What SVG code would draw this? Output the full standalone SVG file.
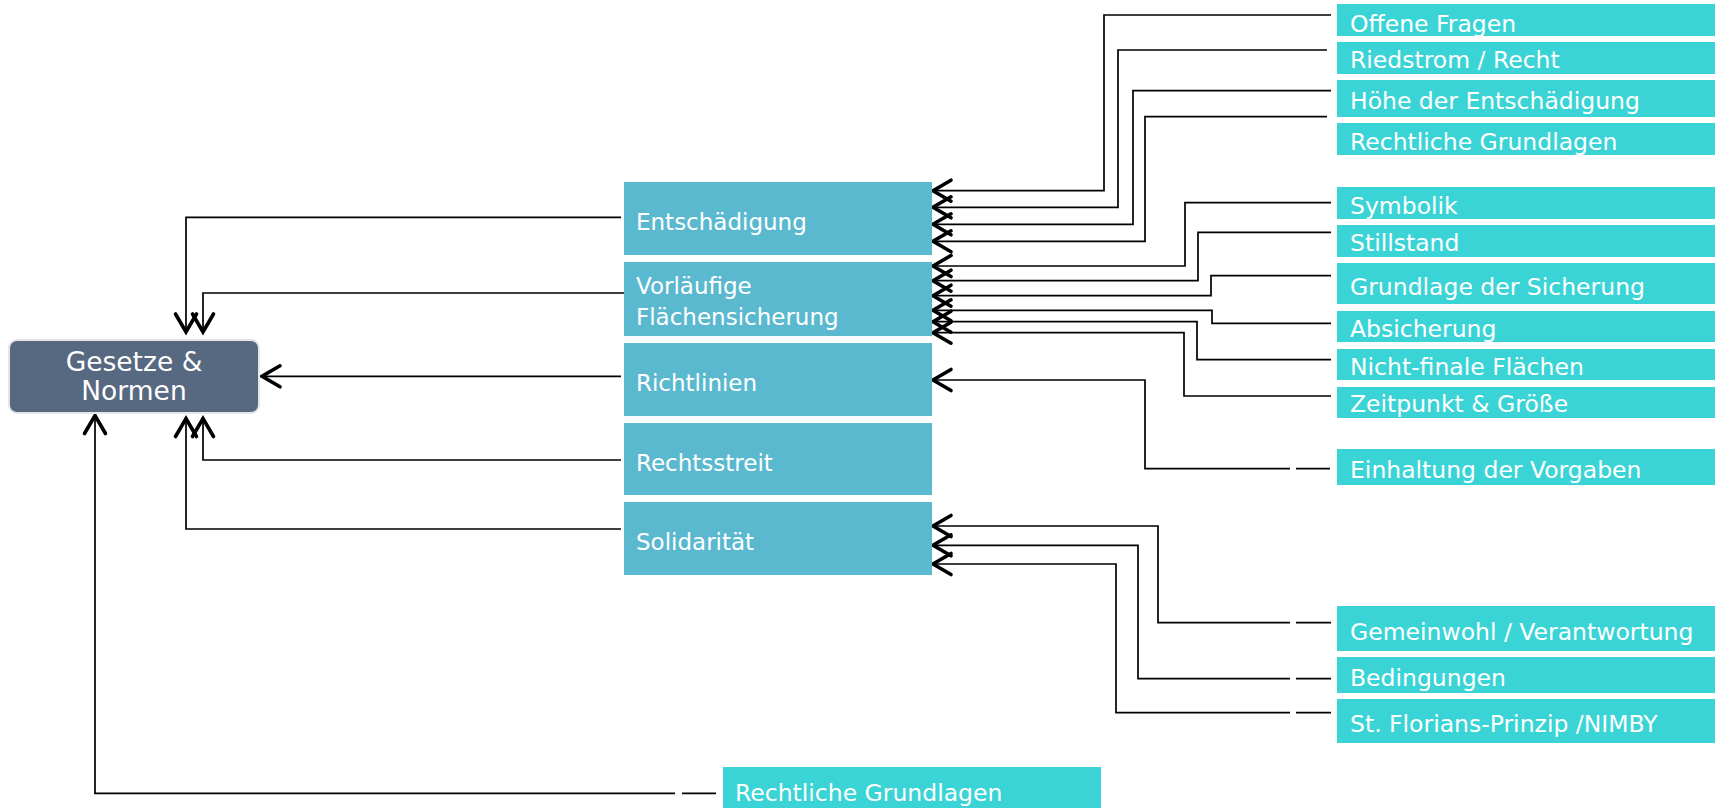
<svg xmlns="http://www.w3.org/2000/svg" width="1721" height="808" viewBox="0 0 1721 808">
<style>
.mid{fill:#5BB9CF}
.leaf{fill:#3BD4D6}
.t{font-family:"DejaVu Sans ExtraLight","DejaVu Sans",sans-serif;fill:#fff}
.tm{font-size:23px}
.tl{font-size:23.5px}
.c{fill:none;stroke:#000;stroke-width:1.7;marker-end:url(#ah)}
.s{fill:none;stroke:#000;stroke-width:1.7}
</style>
<defs>
<marker id="ah" markerUnits="userSpaceOnUse" viewBox="-22 -13 24 26" refX="0" refY="0" markerWidth="24" markerHeight="26" orient="auto" overflow="visible">
<path d="M-18,-10.5 L0,0 L-18,10.5" fill="none" stroke="#000" stroke-width="3.6" stroke-linecap="round"/>
</marker>
</defs>
<rect width="1721" height="808" fill="#fff"/>

<g id="connectors">
<path class="c" d="M1331,15 H1104 V190.7 H933"/>
<path class="c" d="M1327,50 H1118 V207.3 H933"/>
<path class="c" d="M1331,90.7 H1133 V224.3 H933"/>
<path class="c" d="M1327,116.7 H1145 V241.3 H933"/>
<path class="c" d="M1331,202.7 H1185 V266 H933"/>
<path class="c" d="M1331,232.3 H1198 V280.7 H933"/>
<path class="c" d="M1331,275.7 H1211 V295.7 H933"/>
<path class="c" d="M1331,323.3 H1212 V310.3 H933"/>
<path class="c" d="M1331,359.7 H1197 V321.7 H933"/>
<path class="c" d="M1331,396 H1184 V332.7 H933"/>
<path class="s" d="M1330,468.7 H1296"/>
<path class="c" d="M1290,468.7 H1145 V380 H933"/>
<path class="s" d="M1331,622.7 H1296"/>
<path class="c" d="M1290,622.7 H1158 V526 H933"/>
<path class="s" d="M1331,678.7 H1296"/>
<path class="c" d="M1290,678.7 H1138 V545.3 H933"/>
<path class="s" d="M1331,712.7 H1296"/>
<path class="c" d="M1290,712.7 H1116 V564 H933"/>
<path class="c" d="M621,217.3 H186 V332"/>
<path class="c" d="M624,293 H203 V332"/>
<path class="c" d="M621,376.3 H262"/>
<path class="c" d="M621,460 H203 V418.5"/>
<path class="c" d="M621,529 H186 V418.5"/>
<path class="s" d="M716,793.3 H682"/>
<path class="c" d="M675,793.3 H95 V415.5"/>
</g>

<g id="gesetze">
<rect x="9" y="340" width="250" height="73" rx="8" fill="#576881" stroke="#e6e6e6" stroke-width="2"/>
<text class="t" x="134" y="371" font-size="26.5" text-anchor="middle">Gesetze &amp;</text>
<text class="t" x="134" y="399.5" font-size="26.5" text-anchor="middle">Normen</text>
</g>

<g id="entschaedigung"><rect class="mid" x="624" y="182" width="308" height="73"/><text class="t tm" x="636" y="230">Entschädigung</text></g>
<g id="vorlaeufige"><rect class="mid" x="624" y="262" width="308" height="74"/><text class="t tm" x="636" y="293.5">Vorläufige</text><text class="t tm" x="636" y="324.5">Flächensicherung</text></g>
<g id="richtlinien"><rect class="mid" x="624" y="343" width="308" height="73"/><text class="t tm" x="636" y="391">Richtlinien</text></g>
<g id="rechtsstreit"><rect class="mid" x="624" y="423" width="308" height="72"/><text class="t tm" x="636" y="470.5">Rechtsstreit</text></g>
<g id="solidaritaet"><rect class="mid" x="624" y="502" width="308" height="73"/><text class="t tm" x="636" y="550">Solidarität</text></g>

<g id="offene-fragen"><rect class="leaf" x="1337" y="4" width="378" height="32"/><text class="t tl" x="1350" y="32">Offene Fragen</text></g>
<g id="riedstrom"><rect class="leaf" x="1337" y="42" width="378" height="32"/><text class="t tl" x="1350" y="68.3">Riedstrom / Recht</text></g>
<g id="hoehe"><rect class="leaf" x="1337" y="80" width="378" height="37"/><text class="t tl" x="1350" y="109.3">Höhe der Entschädigung</text></g>
<g id="rechtliche-1"><rect class="leaf" x="1337" y="123" width="378" height="32"/><text class="t tl" x="1350" y="149.5">Rechtliche Grundlagen</text></g>
<g id="symbolik"><rect class="leaf" x="1337" y="187" width="378" height="32"/><text class="t tl" x="1350" y="214.3">Symbolik</text></g>
<g id="stillstand"><rect class="leaf" x="1337" y="225" width="378" height="32"/><text class="t tl" x="1350" y="251">Stillstand</text></g>
<g id="grundlage"><rect class="leaf" x="1337" y="263" width="378" height="41"/><text class="t tl" x="1350" y="295">Grundlage der Sicherung</text></g>
<g id="absicherung"><rect class="leaf" x="1337" y="311" width="378" height="31"/><text class="t tl" x="1350" y="336.5">Absicherung</text></g>
<g id="nicht-finale"><rect class="leaf" x="1337" y="349" width="378" height="31"/><text class="t tl" x="1350" y="375">Nicht-finale Flächen</text></g>
<g id="zeitpunkt"><rect class="leaf" x="1337" y="387" width="378" height="31"/><text class="t tl" x="1350" y="412.3">Zeitpunkt &amp; Größe</text></g>
<g id="einhaltung"><rect class="leaf" x="1337" y="449" width="378" height="36"/><text class="t tl" x="1350" y="478">Einhaltung der Vorgaben</text></g>
<g id="gemeinwohl"><rect class="leaf" x="1337" y="606" width="378" height="45"/><text class="t tl" x="1350" y="640">Gemeinwohl / Verantwortung</text></g>
<g id="bedingungen"><rect class="leaf" x="1337" y="657" width="378" height="36"/><text class="t tl" x="1350" y="686">Bedingungen</text></g>
<g id="st-florians"><rect class="leaf" x="1337" y="699" width="378" height="44"/><text class="t tl" x="1350" y="732">St. Florians-Prinzip /NIMBY</text></g>
<g id="rechtliche-2"><rect class="leaf" x="723" y="767" width="378" height="41"/><text class="t tl" x="735" y="801">Rechtliche Grundlagen</text></g>
</svg>
